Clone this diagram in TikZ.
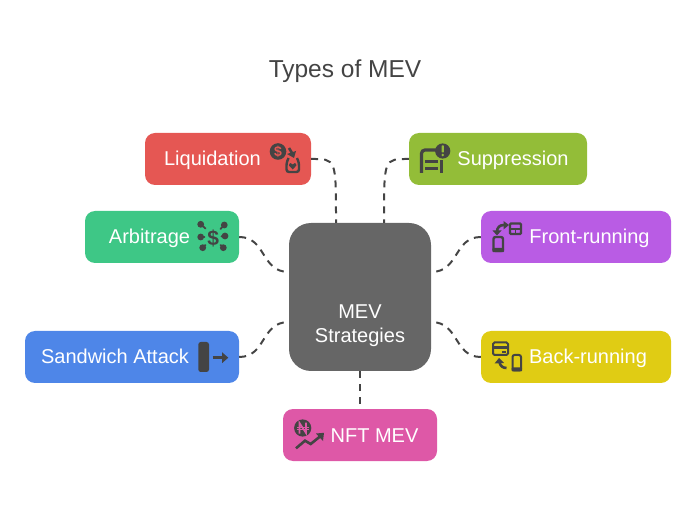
\documentclass[tikz,border=0pt]{standalone}
\usepackage{fontspec}
\setmainfont{Liberation Sans}
\usetikzlibrary{arrows.meta}
\definecolor{ink}{HTML}{444444}
\definecolor{cred}{HTML}{E55753}
\definecolor{cgreen}{HTML}{3EC786}
\definecolor{colive}{HTML}{93BD38}
\definecolor{cpurple}{HTML}{B95CE4}
\definecolor{cblue}{HTML}{4E86E8}
\definecolor{cyellow}{HTML}{E0CC14}
\definecolor{cpink}{HTML}{DE58A7}
\definecolor{ccenter}{HTML}{666666}
\tikzset{
  x=1pt,y=-1pt,
  card/.style={draw=none,rounded corners=10pt,inner sep=0pt,minimum height=52pt},
  lbl/.style={text=white,font=\fontsize{20}{24}\selectfont,inner sep=0pt,anchor=base},
  link/.style={draw=ink,line width=2pt,dash pattern=on 7pt off 6pt},
  ic/.style={draw=ink,line width=2.4pt,fill=none},
}
\begin{document}
\begin{tikzpicture}
\useasboundingbox (0,0) rectangle (696,510);
\node[text=ink,font=\fontsize{24.5}{28}\selectfont,inner sep=0pt,anchor=base] (title) at (345,78) {Types of MEV};

\node[card,fill=cred,minimum width=166pt] (liq) at (228,159) {};
\node[card,fill=colive,minimum width=178pt] (sup) at (498,159) {};
\node[card,fill=cgreen,minimum width=154pt] (arb) at (162,237) {};
\node[card,fill=cpurple,minimum width=190pt] (fro) at (576,237) {};
\node[card,fill=cblue,minimum width=214pt] (san) at (132,357) {};
\node[card,fill=cyellow,minimum width=190pt] (bac) at (576,357) {};
\node[card,fill=cpink,minimum width=154pt] (nft) at (360,435) {};
\node[draw=none,fill=ccenter,rounded corners=22pt,minimum width=142pt,minimum height=148pt,inner sep=0pt] (mev) at (360,297) {};

\node[lbl] (t1) at (212.5,166) {Liquidation};
\node[lbl] (t2) at (513,166) {Suppression};
\node[lbl] (t3) at (149.5,244) {Arbitrage};
\node[lbl] (t4) at (589.5,244) {Front-running};
\node[lbl] (t5) at (115,364) {Sandwich Attack};
\node[lbl] (t6) at (588,364) {Back-running};
\node[lbl] (t7) at (374.5,442) {NFT MEV};
\node[lbl] (t8) at (360,319) {MEV};
\node[lbl] (t9) at (360,343) {Strategies};

% connectors
\draw[link] (liq.east) .. controls +(25,0) and ([xshift=-24,yshift=65]mev.north) .. ([xshift=-24]mev.north);
\draw[link] (sup.west) .. controls +(-25,0) and ([xshift=24,yshift=65]mev.north) .. ([xshift=24]mev.north);
\draw[link] (arb.east) .. controls +(27,0) and ([xshift=-28,yshift=25]mev.west) .. ([yshift=25]mev.west);
\draw[link] (fro.west) .. controls +(-27,0) and ([xshift=28,yshift=25]mev.east) .. ([yshift=25]mev.east);
\draw[link] (san.east) .. controls +(27,0) and ([xshift=-28,yshift=-25]mev.west) .. ([yshift=-25]mev.west);
\draw[link] (bac.west) .. controls +(-27,0) and ([xshift=28,yshift=-25]mev.east) .. ([yshift=-25]mev.east);
\draw[link] (mev.south) -- (nft.north);

% Liquidation icon
\fill[ink] (278,151.5) circle (8.3);
\node[text=cred,font=\bfseries\fontsize{14}{14}\selectfont,inner sep=0pt] (d1) at (278,151.5) {\$};
\draw[ink,line width=2.6pt] (289,148) -- (292,153);
\fill[ink] (287,154) -- (296,151) -- (294,158) -- cycle;
\draw[ic,rounded corners=2.5pt] (288.5,158) -- (286.5,163) -- (286.5,172) -- (299,172) -- (299,163) -- (297,158);
\fill[ink] (292.7,169.5) -- (289,165.5) .. controls (289,162.5) and (292,162.5) .. (292.7,164.5) .. controls (293.4,162.5) and (296.4,162.5) .. (296.4,165.5) -- cycle;

% Suppression icon
\draw[ic,line width=3.2pt,rounded corners=3.5pt] (421.5,173) -- (421.5,150) -- (436,150);
\fill[ink] (442.7,151) circle (7.6);
\fill[colive,rounded corners=0.5pt] (441.5,145.5) rectangle (443.9,152.5);
\fill[colive] (442.7,155) circle (1.3);
\fill[ink] (425,160) rectangle (438,163.5);
\fill[ink] (425,167) rectangle (438,170);
\fill[ink] (440,160) rectangle (442.5,173);

% Arbitrage icon
\node[text=ink,font=\bfseries\fontsize{21}{21}\selectfont,inner sep=0pt] (d2) at (213.3,238) {\$};
\foreach \a/\b/\c/\d in {200.7/224.3/205.5/228.5,224.3/225/220.5/229,200.7/237/204.5/237,225/236/221.5/236.4,202.7/247.7/205.5/245,223.3/247.7/220.5/245}{
  \fill[ink] (\a,\b) circle (3.4);
  \draw[ink,line width=1.8pt,line cap=round] (\a,\b) -- (\c,\d);
}

% Front-running icon
\draw[ic,rounded corners=2pt] (493.5,237) rectangle (503,251);
\fill[ink,rounded corners=1pt] (492.3,248) rectangle (504.2,252.2);
\draw[ic,rounded corners=1pt,line width=2.2pt] (510,223.5) rectangle (521,234);
\draw[ink,line width=1.8pt] (510,228.7) -- (521,228.7) (515.5,228.7) -- (515.5,234);
\draw[ink,line width=2.6pt] (497,232) .. controls (497,227) and (500,225) .. (504,225);
\fill[ink] (503.5,221) -- (509,225) -- (503.5,229.5) -- cycle;
\fill[ink] (492.5,230.5) -- (501.5,230.5) -- (497,235.5) -- cycle;

% Back-running icon
\draw[ic,line width=2pt,rounded corners=1.5pt] (493,342.5) rectangle (508,355);
\fill[ink] (493,346.5) rectangle (508,349);
\fill[ink] (502,351) rectangle (506,353);
\draw[ink,line width=2.6pt] (506.5,368) .. controls (503,368) and (500,366) .. (499.5,362);
\fill[ink] (494.5,363.5) -- (499,358) -- (504,363) -- cycle;
\draw[ic,line width=2pt,rounded corners=2pt] (512.5,355) rectangle (521,370.5);
\fill[ink,rounded corners=1pt] (511.5,367.5) rectangle (522,371.5);

% NFT icon
\fill[ink] (302.7,428) circle (8.6);
\draw[cpink,line width=1.7pt] (299.5,433.5) -- (299.5,423) -- (306,433) -- (306,422.5);
\draw[cpink,line width=1pt] (296.5,427) -- (309,427) (296.5,429.5) -- (309,429.5);
\draw[ink,line width=2.6pt] (296,448.3) -- (305,440.7) -- (310.7,444) -- (320,436.5);
\fill[ink] (316,433.5) -- (324,432.8) -- (323,441) -- cycle;

% Sandwich icon
\fill[ink,rounded corners=2.5pt] (198.3,342) rectangle (209,372);
\draw[ink,line width=2.6pt] (212.7,357.7) -- (223,357.7);
\fill[ink] (222,352.2) -- (228.3,357.7) -- (222,363.2) -- cycle;
\end{tikzpicture}
\end{document}
